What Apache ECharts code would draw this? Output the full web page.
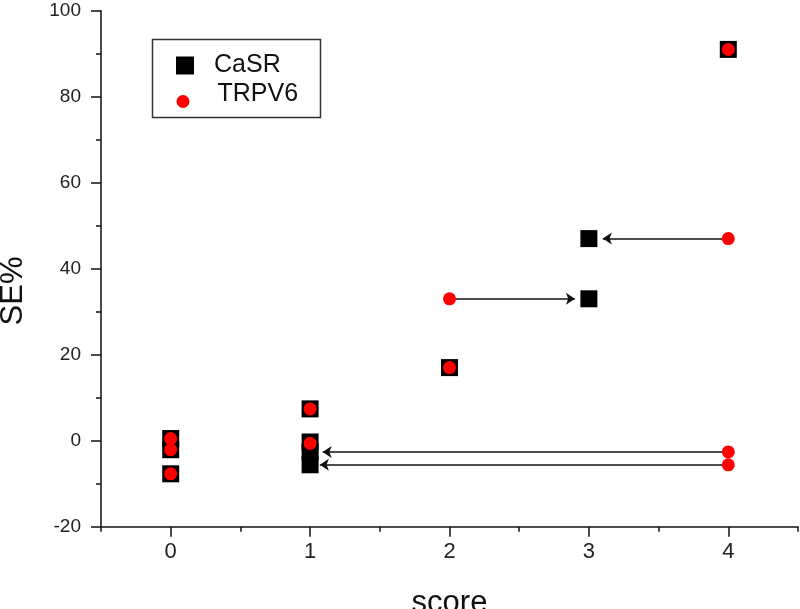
<!DOCTYPE html>
<html>
<head>
<meta charset="utf-8">
<script src="https://cdn.jsdelivr.net/npm/echarts@6/dist/echarts.min.js"></script>
<style>
    html, body { margin: 0; padding: 0; background: #fff; }
    #chart { width: 800px; height: 609px; }
</style>
</head>
<body>
<div id="chart"></div>
<script>
// CaSR points (score, SE%)
const casrScore = [0, 0, 0, 1, 1, 1, 1, 2, 3, 3, 4];
const casrSE = [0.5, -2.1, -7.7, 7.4, -0.3, -2.6, -5.6, 17, 33, 47, 91];
// TRPV6 points (score, SE%)
const trpvScore = [0, 0, 0, 1, 1, 2, 2, 4, 4, 4, 4];
const trpvSE = [0.5, -2.1, -7.7, 7.4, -0.6, 17, 33, 47, 91, -2.6, -5.6];
// arrows: from score, SE%, to score
const arrowFrom = [4, 2, 4, 4];
const arrowSE = [47, 33, -2.6, -5.6];
const arrowTo = [3.1, 2.9, 1.09, 1.07];
// ticks
const xMajor = [0, 1, 2, 3, 4];
const xMinor = [-0.5, 0.5, 1.5, 2.5, 3.5, 4.5];

const font = 'Liberation Sans, Arial, sans-serif';
// red dot sits a bit below its legend text, as in the original
const dotIcon = 'path://M0,0M0,20.5a6.5,6.5 0 1,0 13,0a6.5,6.5 0 1,0 -13,0Z';
const myChart = echarts.init(document.getElementById('chart'));

const option = {
    animation: false,
    grid: {
        left: 101,
        right: 2,
        top: 10.7,
        bottom: 82.3,
        outerBoundsMode: 'none',
        containLabel: false
    },
    xAxis: [
        {
            type: 'value',
            min: -0.5,
            max: 4.5,
            name: 'score',
            nameLocation: 'middle',
            nameGap: 61,
            nameTextStyle: { fontFamily: font, fontSize: 31, color: '#111' },
            axisLine: { onZero: false, lineStyle: { color: '#111', width: 1.5 } },
            axisTick: { customValues: xMajor, length: 10, inside: false, lineStyle: { color: '#111', width: 1.5 } },
            axisLabel: { customValues: xMajor, margin: 14, fontFamily: font, fontSize: 22, color: '#222' },
            splitLine: { show: false }
        },
        {
            type: 'value',
            min: -0.5,
            max: 4.5,
            position: 'bottom',
            axisLine: { show: false, onZero: false },
            axisTick: { customValues: xMinor, length: 5, lineStyle: { color: '#111', width: 1.5 } },
            axisLabel: { show: false },
            splitLine: { show: false }
        }
    ],
    yAxis: {
        type: 'value',
        min: -20,
        max: 100,
        interval: 20,
        axisLine: { show: true, onZero: false, lineStyle: { color: '#111', width: 1.5 } },
        axisTick: { show: true, length: 10, lineStyle: { color: '#111', width: 1.5 } },
        minorTick: { show: true, splitNumber: 2, length: 5, lineStyle: { color: '#111', width: 1.5 } },
        axisLabel: { margin: 20, fontFamily: font, fontSize: 19, color: '#222' },
        splitLine: { show: false }
    },
    legend: [
        {
            data: ['CaSR'],
            left: 176,
            top: 53,
            padding: 0,
            itemWidth: 18,
            itemHeight: 18,
            textStyle: { fontFamily: font, fontSize: 25, color: '#111', padding: [0, 0, 0, 15] },
            selectedMode: false
        },
        {
            data: [{ name: 'TRPV6', icon: dotIcon }],
            left: 176.5,
            top: 81,
            padding: 0,
            itemWidth: 13,
            itemHeight: 27,
            textStyle: { fontFamily: font, fontSize: 25, color: '#111', padding: [0, 0, 0, 23] },
            selectedMode: false
        }
    ],
    graphic: [
        {
            type: 'rect',
            shape: { x: 152.5, y: 39.5, width: 168, height: 78 },
            style: { fill: 'none', stroke: '#333', lineWidth: 1.5 },
            z: 0
        },
        {
            type: 'text',
            x: 13,
            y: 291,
            rotation: Math.PI / 2,
            style: {
                text: 'SE%',
                font: '31px ' + font,
                fill: '#111',
                textAlign: 'center',
                textVerticalAlign: 'middle'
            }
        }
    ],
    series: [
        {
            name: 'CaSR',
            type: 'scatter',
            symbol: 'rect',
            symbolSize: 17,
            itemStyle: { color: '#000', opacity: 1 },
            z: 2,
            data: casrScore.map((s, i) => [s, casrSE[i]]),
            markLine: {
                silent: true,
                z: 1,
                symbol: ['none', 'arrow'],
                symbolSize: 9,
                label: { show: false },
                lineStyle: { color: '#111', width: 1.5, type: 'solid' },
                data: arrowFrom.map((f, i) => [
                    { coord: [f, arrowSE[i]] },
                    { coord: [arrowTo[i], arrowSE[i]] }
                ])
            }
        },
        {
            name: 'TRPV6',
            type: 'scatter',
            symbol: 'circle',
            symbolSize: 13,
            itemStyle: { color: '#ff0000', opacity: 1 },
            z: 3,
            data: trpvScore.map((s, i) => [s, trpvSE[i]])
        }
    ]
};
myChart.setOption(option);
</script>
</body>
</html>
